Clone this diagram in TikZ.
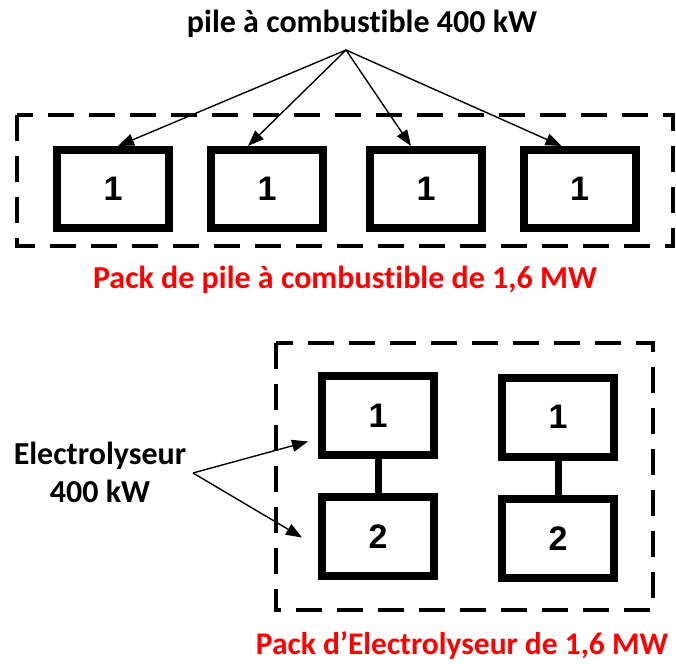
\documentclass[tikz,border=0pt]{standalone}
\usepackage{fontspec}
\setmainfont[Ligatures=NoCommon]{Carlito}
\newfontfamily\numfont{Liberation Sans}
\usetikzlibrary{arrows.meta,positioning}

\begin{document}
\begin{tikzpicture}[x=1pt, y=-1pt,
    cell/.style={draw=black, line width=8pt, fill=white, minimum width=112pt, minimum height=78pt, inner sep=0pt, font=\numfont\bfseries\fontsize{34}{34}\selectfont},
    pack/.style={draw=black, line width=3.5pt, dash pattern=on 26pt off 15pt},
    feed/.style={draw=black, line width=1.4pt, -{Triangle[length=16pt,width=12pt]}},
    link/.style={draw=black, line width=7pt},
    lbl/.style={font=\bfseries\fontsize{32}{38}\selectfont, inner sep=0pt},
    redlbl/.style={lbl, text=red}
  ]
    \useasboundingbox (0,0) rectangle (676,663);

    % Pack PAC
    \draw[pack] (17,115) rectangle (673,246);
    \node[cell] (p1) at (113,189) {1};
    \node[cell] (p2) at (267,189) {1};
    \node[cell] (p3) at (426,189) {1};
    \node[cell] (p4) at (579.5,189) {1};

    \node[lbl, anchor=base] (titre) at (362,33) {pile à combustible 400 kW};
    \coordinate (f0) at (346,50);
    \draw[feed] (f0) -- ([xshift=5pt]p1.north);
    \draw[feed] (f0) -- ([xshift=-19pt]p2.north);
    \draw[feed] (f0) -- ([xshift=-15pt]p3.north);
    \draw[feed] (f0) -- ([xshift=-18pt]p4.north);

    \node[redlbl, anchor=base] (packpac) at (345,288) {Pack de pile à combustible de 1,6 MW};

    % Pack electrolyseur
    \draw[pack] (276,343) rectangle (653,610);
    \node[cell, minimum height=79pt] (e11) at (378,415.5) {1};
    \node[cell, minimum height=79pt] (e12) at (378,536.5) {2};
    \node[cell, minimum height=79pt] (e21) at (558,417) {1};
    \node[cell, minimum height=79pt] (e22) at (558,538.5) {2};
    \draw[link] (e11) -- (e12);
    \draw[link] (e21) -- (e22);

    \node[lbl, align=center] (elec) at (100,472.5) {Electrolyseur\\400 kW};
    \coordinate (f1) at (193,473);
    \draw[feed] (f1) -- ([xshift=-10pt,yshift=-26pt]e11.west);
    \draw[feed] (f1) -- ([xshift=-16pt,yshift=-1pt]e12.west);

    \node[redlbl, anchor=base, font=\bfseries\fontsize{31.5}{38}\selectfont] (packel) at (462,654) {Pack d’Electrolyseur de 1,6 MW};
  \end{tikzpicture}
\end{document}
